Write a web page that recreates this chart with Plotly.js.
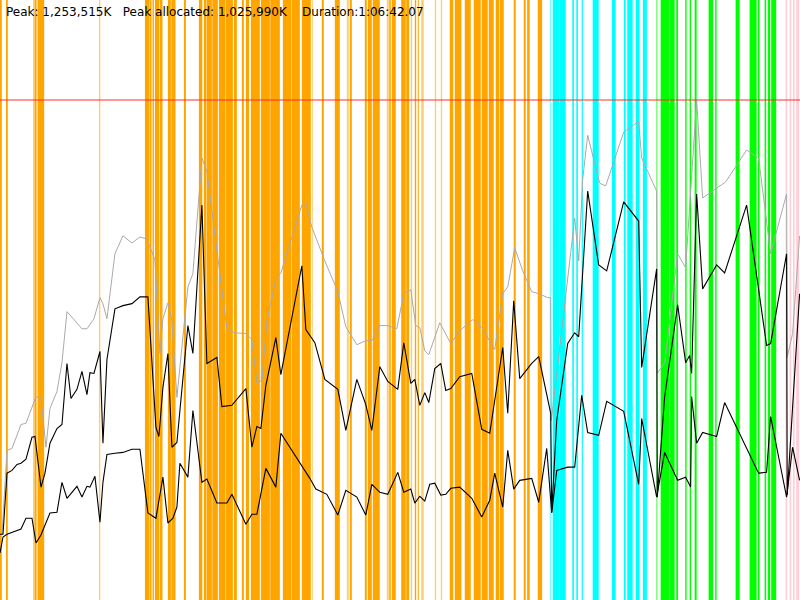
<!DOCTYPE html>
<html>
<head>
<meta charset="utf-8">
<script src="https://cdn.plot.ly/plotly-3.0.1.min.js"></script>
<style>html,body{margin:0;padding:0;background:#fff;}#chart{width:800px;height:600px;}</style>
</head>
<body>
<div id="chart"></div>
<script>
// ---- Data (time in seconds, memory in MB) ----
const peakMB = 1253.5;          // Peak: 1,253,515K
const durationSec = 4002.07;    // 1:06:42.07
const titleText = "Peak: 1,253,515K\u00a0\u00a0 Peak allocated: 1,025,990K\u00a0\u00a0\u00a0 Duration:1:06:42.07";

const timeTotal = [10,35,60,105,130,160,180,205,230,250,285,310,335,410,435,470,500,515,535,575,615,660,700,735,775,800,815,840,860,885,940,965,1010,1035,1135,1170,1230,1260,1285,1310,1335,1380,1405,1510,1530,1560,1625,1690,1730,1785,1830,1860,1900,1940,1985,2020,2055,2080,2100,2125,2145,2200,2255,2300,2365,2410,2475,2515,2540,2575,2615,2660,2695,2740,2755,2758,2875,2895,2915,2940,3000,3030,3120,3195,3210,3285,3288,3325,3390,3430,3485,3515,3585,3630,3735,3795,3855,3935,3938,3965,4000];
const memTotal = [165,375,380,440,443,483,510,505,383,480,523,595,723,680,680,705,758,743,705,868,913,895,910,905,853,618,705,745,700,508,785,818,1108,1075,680,670,668,653,545,550,700,805,820,990,995,935,850,773,685,640,650,650,688,688,680,768,778,688,683,625,615,695,643,675,703,683,628,768,785,883,825,773,768,758,758,450,958,850,1055,1165,1045,1038,1173,1200,1108,1025,568,595,868,833,1253,1008,1033,1048,1128,1108,868,1018,608,668,913];

const timeAllocated = [0,15,35,60,85,105,130,160,175,205,225,250,285,310,335,355,385,410,435,450,470,500,515,535,575,615,660,700,740,780,795,815,840,860,885,940,965,1010,1035,1085,1110,1160,1230,1260,1285,1305,1330,1380,1405,1510,1530,1575,1625,1690,1730,1785,1830,1860,1900,1940,1990,2020,2055,2075,2100,2125,2145,2175,2205,2230,2255,2300,2360,2410,2450,2515,2540,2570,2600,2660,2695,2755,2760,2785,2840,2875,2895,2940,2995,3035,3120,3195,3210,3285,3288,3325,3390,3430,3450,3460,3485,3515,3585,3625,3735,3835,3855,3935,3938,4000];
const memAllocated = [165,165,318,325,340,343,353,408,410,283,318,393,430,440,593,505,528,573,515,570,568,623,393,603,730,738,743,760,760,433,410,533,618,383,395,688,618,990,593,608,485,488,530,383,435,430,538,658,565,838,678,645,553,528,425,553,490,425,585,548,528,645,543,553,488,520,495,580,593,525,530,560,568,428,418,633,468,750,555,593,610,468,220,450,643,670,660,1025,840,825,998,950,583,830,258,510,740,595,613,568,1018,780,840,820,990,638,643,868,263,768];

const timeLive = [0,15,35,60,105,130,160,180,205,250,285,310,335,385,410,435,450,475,500,515,535,575,615,660,700,740,780,815,840,865,885,900,940,965,1010,1035,1085,1135,1160,1230,1260,1285,1330,1380,1405,1550,1580,1635,1690,1730,1785,1830,1860,1900,1940,1990,2020,2055,2075,2100,2125,2150,2175,2205,2230,2255,2300,2360,2410,2450,2475,2515,2540,2570,2600,2660,2695,2735,2760,2785,2840,2875,2910,2940,2995,3035,3120,3195,3210,3285,3325,3390,3430,3455,3460,3485,3515,3585,3625,3795,3835,3855,3935,3965,4000];
const memLive = [118,158,165,170,178,205,205,143,163,218,220,295,255,285,258,285,283,310,195,295,365,368,370,378,378,218,205,308,193,205,233,343,308,475,295,303,243,243,265,190,215,215,330,283,418,305,278,265,213,275,258,213,290,270,265,320,270,278,243,260,248,290,293,263,265,280,283,255,208,250,318,233,375,278,300,305,245,380,218,325,333,333,513,420,413,498,473,290,455,258,370,300,308,283,510,393,420,410,495,318,320,460,258,383,300];

// phase intervals [start, end] in seconds
const orangeSpans = [[0,9],[30,39],[172,183],[188,221],[725,748],[750,758],[763,770],[775,797],[800,813],[840,855],[857,878],[920,930],[995,1012],[1020,1033],[1035,1060],[1062,1090],[1095,1128],[1130,1165],[1170,1185],[1210,1220],[1230,1246],[1255,1300],[1305,1350],[1352,1400],[1415,1458],[1460,1500],[1510,1555],[1610,1620],[1675,1700],[1750,1760],[1825,1835],[1840,1860],[1865,1900],[1947,1955],[1960,1980],[2007,2030],[2032,2047],[2075,2082],[2090,2095],[2250,2267],[2275,2308],[2325,2355],[2370,2405],[2410,2440],[2445,2470],[2480,2497],[2500,2520],[2570,2580],[2620,2630],[2637,2650],[2690,2712]];
const orangeFaintSpans = [[165,170],[495,502],[1560,1565],[1735,1745],[1935,1945],[2055,2062],[2107,2120],[2175,2182],[2205,2212]];
const cyanSpans = [[2765,2800],[2801,2830],[2863,2871],[2883,2891],[2910,2916],[2965,2995],[3061,3080],[3121,3130],[3138,3165],[3180,3200],[3216,3236]];
const cyanFaintSpans = [[2750,2757]];
const greenSpans = [[3305,3350],[3352,3375],[3383,3392],[3428,3435],[3450,3457],[3475,3485],[3545,3567],[3578,3585],[3680,3700],[3750,3785],[3792,3800],[3825,3833],[3842,3853],[3858,3883]];
const greenFaintSpans = [[3282,3290]];
const pinkSpans = [[3930,3938],[3950,3958],[3967,3975],[3983,3997]];

// ---- Build figure ----
const shapes = [];
function addSpans(spans, color, opacity) {
  spans.forEach(function (s) {
    shapes.push({type:'rect', xref:'x', yref:'paper', x0:s[0], x1:s[1], y0:0, y1:1,
      fillcolor:color, opacity:opacity, line:{width:0}, layer:'below'});
  });
}
addSpans(orangeSpans, '#FFA500', 1);
addSpans(orangeFaintSpans, '#FFA500', 0.55);
addSpans(cyanSpans, '#00FFFF', 1);
addSpans(cyanFaintSpans, '#00FFFF', 0.5);
addSpans(greenSpans, '#00FF00', 1);
addSpans(greenFaintSpans, '#00FF00', 0.5);
addSpans(pinkSpans, '#FFC0CB', 0.8);
shapes.push({type:'line', xref:'paper', x0:0, x1:1, yref:'y', y0:peakMB, y1:peakMB,
  line:{color:'rgba(255,40,40,0.65)', width:1.5}, layer:'above'});

const traces = [
  {x: timeTotal, y: memTotal, type:'scatter', mode:'lines', line:{color:'#aaaaaa', width:1}, hoverinfo:'skip'},
  {x: timeAllocated, y: memAllocated, type:'scatter', mode:'lines', line:{color:'#000000', width:1.1}, hoverinfo:'skip'},
  {x: timeLive, y: memLive, type:'scatter', mode:'lines', line:{color:'#000000', width:1.1}, hoverinfo:'skip'}
];

const layout = {
  width: 800, height: 600,
  margin: {l:0, r:0, t:0, b:0, pad:0},
  paper_bgcolor: '#ffffff', plot_bgcolor: '#ffffff',
  showlegend: false,
  xaxis: {range:[0, durationSec], visible:false, fixedrange:true},
  yaxis: {range:[0, peakMB * 1.2], visible:false, fixedrange:true},
  shapes: shapes,
  annotations: [{
    text: titleText, xref:'paper', yref:'paper', x:0, y:1, xanchor:'left', yanchor:'middle',
    xshift: 4, yshift: -12, showarrow:false,
    font: {family:'DejaVu Sans, sans-serif', size:12, color:'#000000'}
  }]
};

Plotly.newPlot('chart', traces, layout, {staticPlot:true, displayModeBar:false});
</script>
</body>
</html>
